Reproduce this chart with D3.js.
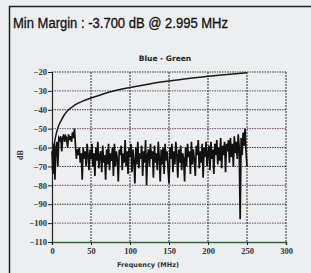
<!DOCTYPE html>
<html>
<head>
<meta charset="utf-8">
<script src="https://cdn.jsdelivr.net/npm/d3@7"></script>
<style>
  body { margin: 0; background: #eceef0; }
  svg { display: block; }
</style>
</head>
<body>
<div id="chart"></div>
<script>
var width = 311,
    height = 273;

var xTicks = [0, 50, 100, 150, 200, 250, 300];
var yTicks = [-20, -30, -40, -50, -60, -70, -80, -90, -100, -110];

// limit curve
var limitFreq = [0.5, 1, 2, 3, 5, 8, 12, 16, 20, 25, 30, 40, 50, 60, 75, 100, 125, 150, 175, 200, 225, 250];
var limitDb = [-72, -68, -62, -58, -53.5, -49, -45.5, -42.5, -40.5, -38.8, -37.3, -35.3, -33.8, -32.4, -30.5, -28.2, -26.3, -24.8, -23.5, -22.3, -21.3, -20.4];

// measured trace, one point every 1.25 MHz from 0 to 250
var traceDb = [
  -62,-74,-58,-77,-60,-57,-70,-55,-56,-54,-62,-55,-53,-57,-54,-55,-60,-53,-56,-54,
  -57,-52,-55,-50,-58,-66,-61,-64,-60,-68,-63,-77,-60,-66,-62,-70,-58,-64,-72,-61,
  -66,-58,-70,-63,-75,-60,-67,-57,-71,-64,-62,-73,-59,-68,-64,-77,-61,-69,-58,-72,
  -63,-67,-60,-75,-58,-70,-62,-66,-78,-61,-64,-59,-72,-63,-68,-56,-70,-62,-74,-60,
  -65,-58,-73,-61,-67,-79,-60,-69,-57,-71,-63,-66,-59,-75,-62,-68,-56,-80,-64,-61,
  -70,-58,-66,-62,-76,-59,-68,-63,-72,-57,-65,-78,-61,-69,-60,-74,-58,-67,-62,-71,
  -79,-60,-66,-58,-73,-62,-69,-57,-64,-76,-61,-68,-59,-72,-63,-66,-78,-60,-70,-58,
  -65,-62,-74,-57,-69,-61,-67,-75,-59,-64,-56,-71,-62,-68,-58,-76,-60,-65,-57,-70,
  -63,-59,-72,-57,-66,-61,-74,-58,-64,-56,-69,-60,-67,-55,-71,-59,-64,-57,-73,-58,
  -62,-56,-68,-55,-65,-58,-70,-54,-63,-57,-66,-53,-60,-98,-55,-64,-52,-59,-50,-62,-70
];
var traceFreq = traceDb.map(function(d, i) { return i * 1.25; });

// grid line colours, as they look on the scan
var purpleLines = [-30, -50, -80, -100];

var svg = d3.select("#chart").append("svg")
    .attr("width", width)
    .attr("height", height);

svg.append("rect")
    .attr("width", width).attr("height", height)
    .attr("fill", "#eceef0");

// outer frame (left and top edges only show)
svg.append("path")
    .attr("d", "M9.5," + height + "V6.5H" + width)
    .attr("fill", "none")
    .attr("stroke", "#222")
    .attr("stroke-width", 1.5);

svg.append("text")
    .attr("x", 13).attr("y", 28)
    .attr("textLength", 215)
    .attr("lengthAdjust", "spacingAndGlyphs")
    .style("font-family", "Liberation Sans, Arial, sans-serif")
    .style("font-size", "14px")
    .style("stroke", "#111")
    .style("stroke-width", 0.3)
    .attr("fill", "#111")
    .text("Min Margin : -3.700 dB @ 2.995 MHz");

var x = d3.scaleLinear().domain([0, 300]).range([52, 286]);
var y = d3.scaleLinear().domain([-20, -110]).range([72, 242]);

svg.append("text")
    .attr("x", 165).attr("y", 61)
    .attr("text-anchor", "middle")
    .style("font-family", "DejaVu Sans, sans-serif")
    .style("font-size", "7.5px")
    .style("font-weight", "bold")
    .attr("fill", "#222")
    .text("Blue - Green");

// horizontal grid
svg.append("g").selectAll("line")
    .data(yTicks.filter(function(d) { return d !== -110; }))
  .enter().append("line")
    .attr("x1", x(0)).attr("x2", x(300))
    .attr("y1", function(d) { return y(d); })
    .attr("y2", function(d) { return y(d); })
    .attr("stroke", function(d) { return purpleLines.indexOf(d) >= 0 ? "#6e4a6e" : "#333"; })
    .attr("stroke-width", 1)
    .attr("stroke-dasharray", "1.5,1");

// vertical grid
svg.append("g").selectAll("line")
    .data(xTicks.filter(function(d) { return d !== 0; }))
  .enter().append("line")
    .attr("x1", function(d) { return x(d); })
    .attr("x2", function(d) { return x(d); })
    .attr("y1", y(-20)).attr("y2", y(-110))
    .attr("stroke", "#333")
    .attr("stroke-width", 1)
    .attr("stroke-dasharray", "2,1");

// axes
var yAxis = svg.append("g")
    .attr("transform", "translate(" + x(0) + ",0)")
    .call(d3.axisLeft(y).tickValues(yTicks).tickSize(4).tickFormat(d3.format("d")));
var xAxis = svg.append("g")
    .attr("transform", "translate(0," + y(-110) + ")")
    .call(d3.axisBottom(x).tickValues(xTicks).tickSize(3).tickFormat(d3.format("d")));

yAxis.select(".domain").attr("stroke", "#222").attr("stroke-width", 1.2);
xAxis.select(".domain").attr("stroke", "#2f6a35").attr("stroke-width", 1.5);
svg.selectAll(".tick line").attr("stroke", "#222");
svg.selectAll(".tick text")
    .style("font-family", "Liberation Serif, serif")
    .style("font-size", "8.5px")
    .style("font-weight", "bold")
    .attr("fill", "#333");
yAxis.selectAll(".tick text").attr("x", -5);
xAxis.selectAll(".tick text").attr("y", 6);

// limit curve
svg.append("path")
    .datum(limitFreq.map(function(f, i) { return [f, limitDb[i]]; }))
    .attr("fill", "none")
    .attr("stroke", "#1a1a1a")
    .attr("stroke-width", 1.5)
    .attr("d", d3.line()
        .curve(d3.curveMonotoneX)
        .x(function(d) { return x(d[0]); })
        .y(function(d) { return y(d[1]); }));

// measured trace
svg.append("path")
    .datum(traceFreq.map(function(f, i) { return [f, traceDb[i]]; }))
    .attr("fill", "none")
    .attr("stroke", "#111")
    .attr("stroke-width", 1.7)
    .attr("d", d3.line()
        .x(function(d) { return x(d[0]); })
        .y(function(d) { return y(d[1]); }));

svg.append("text")
    .attr("transform", "translate(23,155)rotate(-90)")
    .attr("text-anchor", "middle")
    .style("font-family", "Liberation Serif, serif")
    .style("font-size", "8px")
    .style("font-weight", "bold")
    .attr("fill", "#333")
    .text("dB");

svg.append("text")
    .attr("x", 148).attr("y", 267)
    .attr("text-anchor", "middle")
    .style("font-family", "DejaVu Sans, sans-serif")
    .style("font-size", "6.5px")
    .style("font-weight", "bold")
    .attr("fill", "#333")
    .text("Frequency (MHz)");
</script>
</body>
</html>
